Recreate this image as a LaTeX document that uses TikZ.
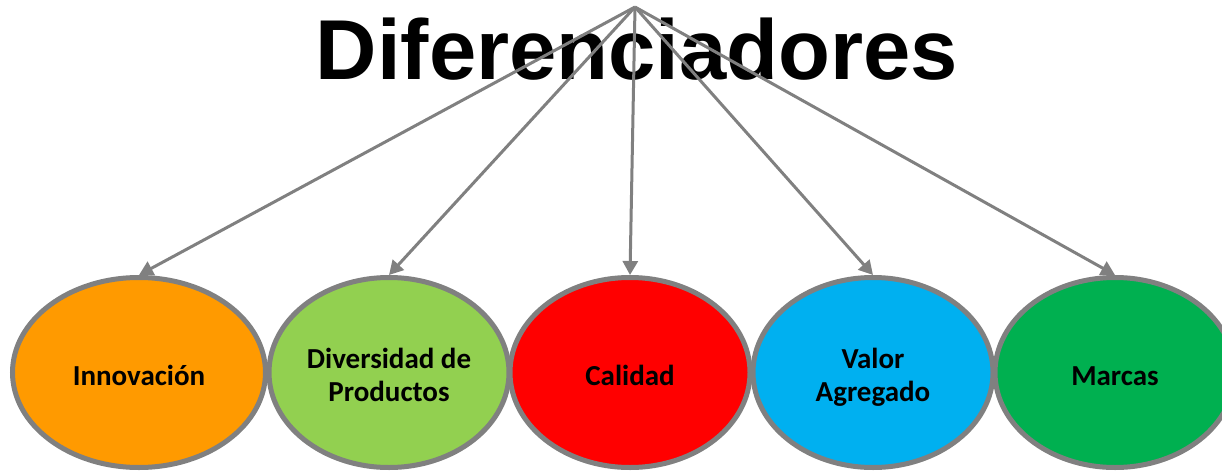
\documentclass[tikz,border=0pt]{standalone}
\usepackage{fontspec}
\setmainfont{Carlito}
\newfontfamily\titlefont{Liberation Sans}
\usetikzlibrary{shapes.geometric,arrows.meta}
\definecolor{edgegray}{HTML}{808080}
\definecolor{corange}{HTML}{FF9A00}
\definecolor{clgreen}{HTML}{92D050}
\definecolor{cred}{HTML}{FF0000}
\definecolor{cblue}{HTML}{00B0F0}
\definecolor{cdgreen}{HTML}{00B050}
\newcommand{\ovaltext}[1]{\raisebox{-6pt}[\height][\depth]{\begin{tabular}{@{}c@{}}#1\end{tabular}}}
\tikzset{
  oval/.style={ellipse, draw=edgegray, line width=5pt, inner sep=0pt,
    minimum width=240pt, minimum height=190pt,
    font=\fontsize{29}{33}\selectfont\bfseries},
  link/.style={draw=edgegray, line width=3pt,
    -{Triangle[length=14pt,width=15pt]}},
}
\begin{document}
\begin{tikzpicture}[x=1pt,y=-1pt]
\useasboundingbox (0,0) rectangle (1222,473);
\clip (0,0) rectangle (1222,473);
\node[anchor=base, inner sep=0pt, font=\titlefont\bfseries\fontsize{85}{90}\selectfont] (title) at (637,80) {Diferenciadores};
\coordinate (apex) at (635,7);
\node[oval, fill=corange, minimum width=253pt] (inn) at (139,372.5) {\ovaltext{Innovación}};
\node[oval, fill=clgreen] (div) at (389,372.5) {\ovaltext{Diversidad de\\Productos}};
\node[oval, fill=cred] (cal) at (630,372.5) {\ovaltext{Calidad}};
\node[oval, fill=cblue] (val) at (873,372.5) {\ovaltext{Valor\\Agregado}};
\node[oval, fill=cdgreen] (mar) at (1115,372.5) {\ovaltext{Marcas}};
\draw[link] (apex) -- (inn.north);
\draw[link] (apex) -- (div.north);
\draw[link] (apex) -- (cal.north);
\draw[link] (apex) -- (val.north);
\draw[link] (apex) -- (mar.north);
\end{tikzpicture}
\end{document}
